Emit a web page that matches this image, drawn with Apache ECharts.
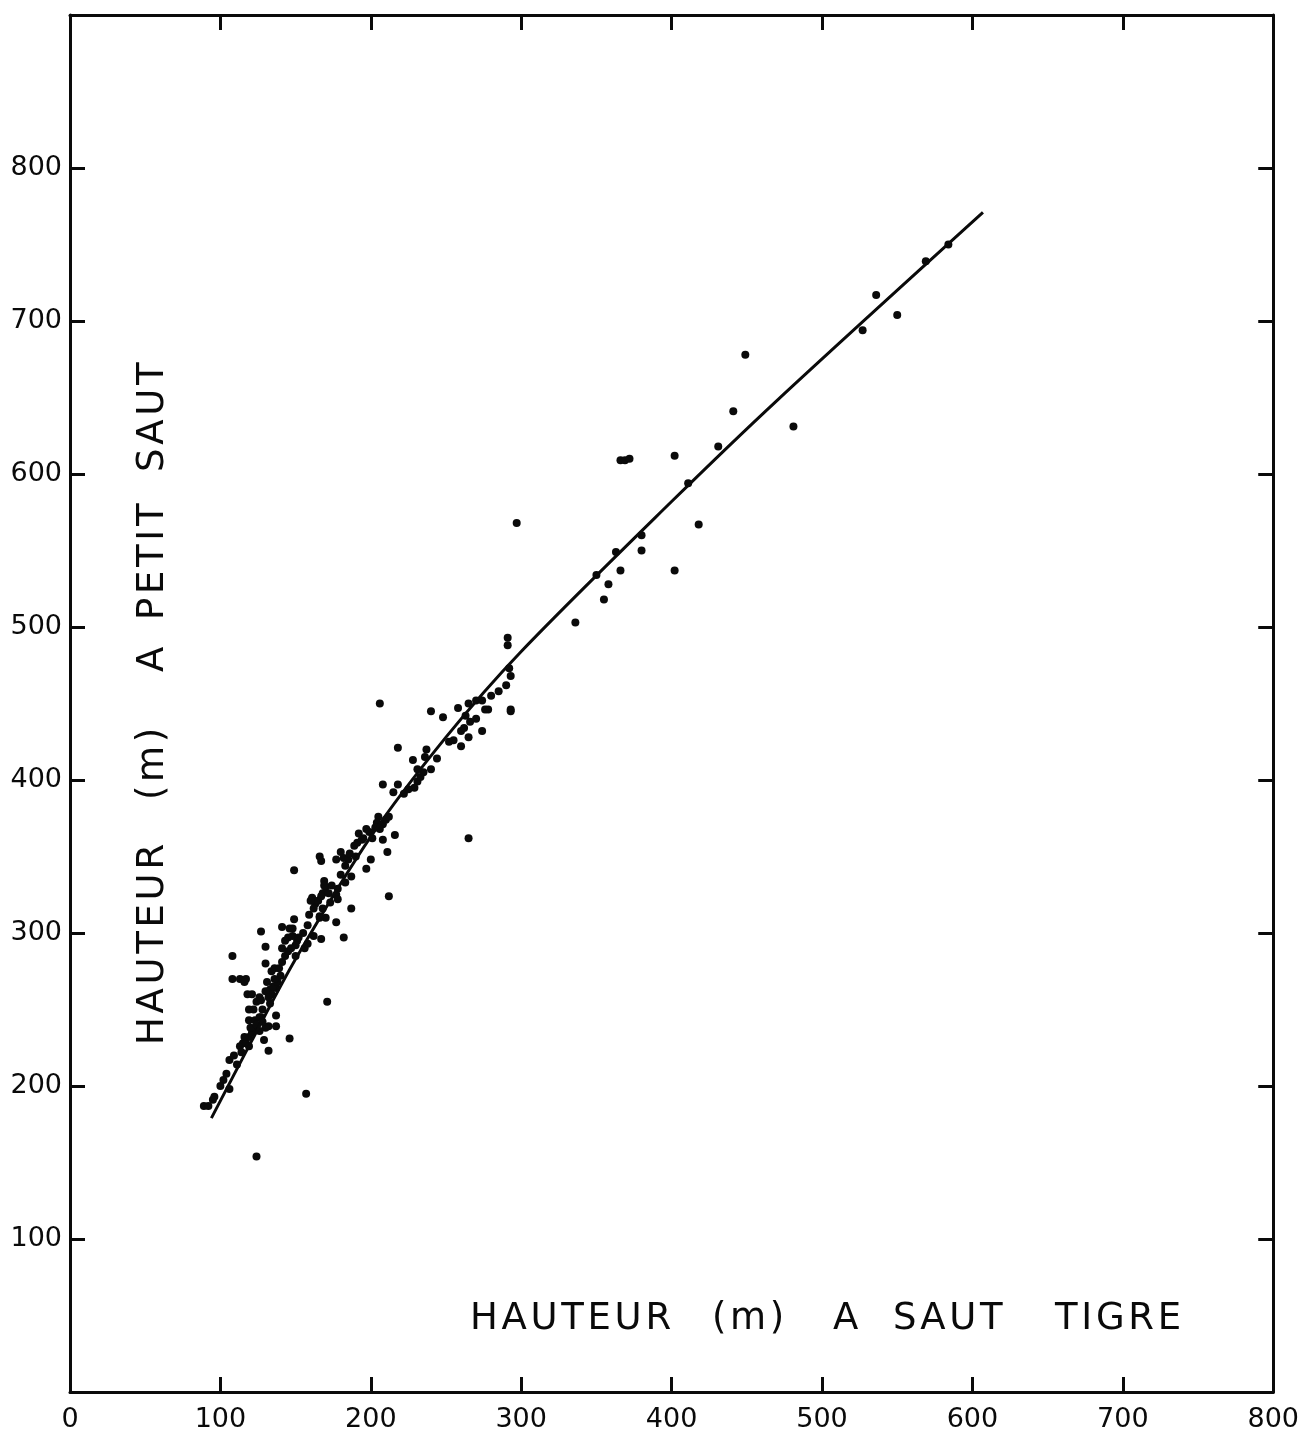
<!DOCTYPE html>
<html>
<head>
<meta charset="utf-8">
<script src="https://cdn.jsdelivr.net/npm/echarts@6/dist/echarts.min.js"></script>
<style>
html,body{margin:0;padding:0;background:#fff;}
#chart{width:1302px;height:1440px;}
</style>
</head>
<body>
<div id="chart"></div>
<script>
// ---- data ----
var xTickLabels = [0, 100, 200, 300, 400, 500, 600, 700, 800];
var yTickLabels = [100, 200, 300, 400, 500, 600, 700, 800];

var xTitleWords = ['HAUTEUR', '(m)', 'A', 'SAUT', 'TIGRE'];
var yTitleWords = ['HAUTEUR', '(m)', 'A', 'PETIT', 'SAUT'];

// observed heights: Saut Tigre (x) vs Petit Saut (y)
var obsUpper = [
  [584,750],[569,739],[536,717],[527,694],[550,704],[481,631],[449,678],[441,641],
  [431,618],[411,594],[402,612],[418,567],[402,537],[380,560],[380,550],[366,609],
  [369,609],[372,610],[363,549],[366,537],[350,534],[358,528],[355,518],[336,503],
  [297,568],[291,493],[291,488],[292,473],[293,468],[293,446]
];
var obsMiddle = [
  [206,450],[240,445],[258,447],[265,450],[270,452],[274,452],[293,445],[278,446],
  [248,441],[263,442],[266,438],[260,432],[274,432],[265,428],[260,422],[252,425],
  [218,421],[237,420],[228,413],[236,415],[231,407],[240,407],[208,397],[218,397],
  [215,392],[231,399],[229,395],[205,376],[204,372],[208,371],[206,368],[197,368],
  [192,365],[191,359],[194,361],[201,362],[208,361],[216,364],[265,362],[211,353],
  [200,348],[166,350],[167,347],[177,348],[180,353],[182,349],[185,348],[183,344],
  [149,341],[197,342],[187,337],[183,333],[169,334],[170,330],[178,329],[177,325],
  [168,326],[161,322],[163,319],[173,320],[178,322],[212,324],[187,316],[168,316],
  [177,307],[166,311],[170,310],[149,309],[141,304],[146,303],[127,301],[151,295],
  [145,297],[130,291],
  [189,357],[195,362],[199,366],[203,369],[210,374],[212,376],[222,391],[225,394],
  [233,402],[235,405],[244,414],[255,426],[262,434],[270,440],[276,446],[280,455],
  [285,458],[290,462],[186,352],[190,350],[174,331],[180,338],[158,305],[155,300]
];
var obsLower = [
  [124,154],[157,195],[171,255],[146,231],[108,285],[108,270],[113,270],[117,270],
  [116,268],[130,280],[141,290],[143,295],[148,303],[148,298],[152,297],[150,292],
  [156,290],[158,293],[162,298],[167,296],[159,312],[162,316],[166,310],[161,323],
  [160,321],[165,321],[167,324],[169,331],[172,326],[182,297],[132,223],[137,246],
  [137,239],[132,239],[130,238],[129,230],[127,245],[118,260],[121,260],[126,258],
  [133,263],[137,264],[136,277],[134,275],[106,198],[95,191],[89,187],[92,187],
  [96,193],[102,204],[104,208],[106,217],[109,220],[113,226],[115,228],[117,228],
  [119,226],[119,232],[121,235],[123,238],[119,243],[123,243],[126,245],[119,250],
  [122,250],[124,255],[127,256],[133,254],[134,260],[135,265],[138,268],[140,272],
  [139,277],[141,281],[143,285],[145,288],[147,290],[150,285],
  [116,232],[120,238],[124,240],[128,250],[130,262],[131,268],[136,270],[126,236],
  [114,222],[111,214],[100,200],[128,242],[132,258]
];
// fitted curve
var fitCurve = [[94,179],[120,228],[150,283],[200,363],[250,428],[300,484],[400,582],[470,648],[607,771]];

// ---- chart ----
var points = obsUpper.concat(obsMiddle, obsLower);
var FONT = 'DejaVu Sans';
var INK = '#0a0a0a';
function spaced(w){ return w.split('').join('\u200A'); }

var axisCommon = {
  type: 'value',
  splitLine: {show: false},
  axisLine: {show: true, onZero: false, lineStyle: {color: INK, width: 3}},
  axisTick: {show: true, inside: true, length: 15, lineStyle: {color: INK, width: 3}}
};

var xTitlePos = [470, 712, 833, 893, 1055];
var yTitlePos = [1045, 800, 672, 620, 472];
var graphics = [];
xTitleWords.forEach(function(w, i){
  graphics.push({type:'text', left: xTitlePos[i], top: 1301,
    style:{text: spaced(w), font: '37px "DejaVu Sans"', fill: INK}});
});
yTitleWords.forEach(function(w, i){
  graphics.push({type:'text', x: 135, y: yTitlePos[i], rotation: Math.PI/2,
    style:{text: spaced(w), font: '37px "DejaVu Sans"', fill: INK, textAlign:'left', textVerticalAlign:'top'}});
});

var chart = echarts.init(document.getElementById('chart'), null, {renderer: 'canvas'});
chart.setOption({
  backgroundColor: '#fff',
  animation: false,
  grid: {left: 70, right: 20, top: 15, bottom: 48, containLabel: false},
  xAxis: [
    Object.assign({}, axisCommon, {position: 'bottom', min: 0, max: 800, interval: 100,
      axisLabel: {show: true, margin: 14, fontFamily: FONT, fontSize: 27, color: INK,
        formatter: function(v){ return xTickLabels.indexOf(v) >= 0 ? String(v) : ''; }}}),
    Object.assign({}, axisCommon, {position: 'top', min: 0, max: 800, interval: 100,
      axisLabel: {show: false}})
  ],
  yAxis: [
    Object.assign({}, axisCommon, {position: 'left', min: 0, max: 900, interval: 100,
      axisLabel: {show: true, margin: 8, fontFamily: FONT, fontSize: 27, color: INK,
        formatter: function(v){ return yTickLabels.indexOf(v) >= 0 ? String(v) : ''; }}}),
    Object.assign({}, axisCommon, {position: 'right', min: 0, max: 900, interval: 100,
      axisLabel: {show: false}})
  ],
  graphic: graphics,
  series: [
    {type: 'scatter', xAxisIndex: 0, yAxisIndex: 0, data: points, symbol: 'circle', symbolSize: 8,
      itemStyle: {color: INK, opacity: 1}, z: 3},
    {type: 'line', xAxisIndex: 0, yAxisIndex: 0, data: fitCurve, smooth: 0.3, showSymbol: false,
      lineStyle: {color: INK, width: 3}, z: 4}
  ]
});
</script>
</body>
</html>
